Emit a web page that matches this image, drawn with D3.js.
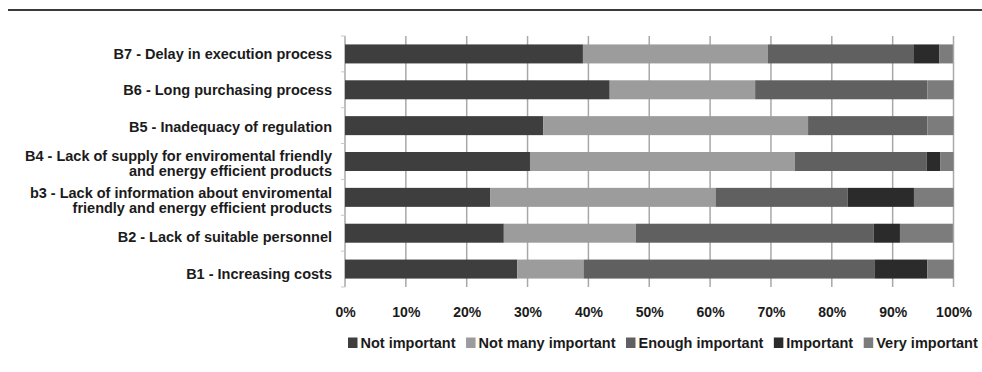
<!DOCTYPE html>
<html>
<head>
<meta charset="utf-8">
<script src="https://cdn.jsdelivr.net/npm/d3@7"></script>
<style>
  body { margin: 0; background: #fff; }
  text { font-family: "Liberation Sans", Arial, Helvetica, sans-serif; font-weight: bold; fill: #1b1b1b; }
</style>
</head>
<body>
<svg id="chart" width="982" height="372"></svg>
<script>
// Barrier categories (top to bottom); "\n" marks a line break in the label
const categories = [
  "B7 - Delay in execution process",
  "B6 - Long purchasing process",
  "B5 - Inadequacy of regulation",
  "B4 - Lack of supply for enviromental friendly\nand energy efficient products",
  "b3 - Lack of information about enviromental\nfriendly and energy efficient products",
  "B2 - Lack of suitable personnel",
  "B1 - Increasing costs"
];

// Share of respondents (%) per importance level, same order as categories
const notImportant     = [39.1, 43.5, 32.6, 30.4, 23.9, 26.1, 28.3];
const notManyImportant = [30.4, 23.9, 43.5, 43.5, 37.0, 21.7, 10.9];
const enoughImportant  = [23.9, 28.3, 19.6, 21.7, 21.7, 39.1, 47.8];
const important        = [ 4.3,  0.0,  0.0,  2.2, 10.9,  4.3,  8.7];
const veryImportant    = [ 2.2,  4.3,  4.3,  2.2,  6.5,  8.7,  4.3];

const seriesNames = ["Not important", "Not many important", "Enough important", "Important", "Very important"];
const seriesColors = ["#3e3e3e", "#9c9c9c", "#606060", "#2b2b2b", "#7c7c7c"];
const tickValues = [0, 10, 20, 30, 40, 50, 60, 70, 80, 90, 100];

const svg = d3.select("#chart");

// Rule across the top of the figure
svg.append("line")
  .attr("x1", 8).attr("x2", 982).attr("y1", 10).attr("y2", 10)
  .attr("stroke", "#3a3a3a").attr("stroke-width", 2);

const plot = { left: 345, right: 953.5, top: 36, bottom: 287 };

const x = d3.scaleLinear().domain([0, 100]).range([plot.left, plot.right]);
const y = d3.scaleBand().domain(categories).range([plot.top, plot.bottom])
  .paddingInner(0.47).paddingOuter(0.235);
// Category labels sit on a slightly taller band grid
const yLabel = d3.scaleBand().domain(categories).range([35, 292]);

const table = categories.map((c, i) => ({
  category: c,
  "Not important": notImportant[i],
  "Not many important": notManyImportant[i],
  "Enough important": enoughImportant[i],
  "Important": important[i],
  "Very important": veryImportant[i]
}));
const stacked = d3.stack().keys(seriesNames)(table);

// Vertical gridlines
svg.append("g").selectAll("line").data(tickValues).join("line")
  .attr("x1", d => x(d)).attr("x2", d => x(d))
  .attr("y1", plot.top).attr("y2", plot.bottom)
  .attr("stroke", "#a8a8a8").attr("stroke-width", 1.5);

// Small ticks on the category axis at band boundaries
svg.append("g").selectAll("line").data(d3.range(categories.length + 1)).join("line")
  .attr("x1", plot.left - 4).attr("x2", plot.left)
  .attr("y1", i => plot.top + i * y.step()).attr("y2", i => plot.top + i * y.step())
  .attr("stroke", "#c8c8c8").attr("stroke-width", 1);

// Stacked bars
svg.append("g").selectAll("g").data(stacked).join("g")
  .attr("fill", (d, i) => seriesColors[i])
  .selectAll("rect").data(d => d).join("rect")
  .attr("x", d => x(d[0]))
  .attr("width", d => Math.max(0, x(d[1]) - x(d[0])))
  .attr("y", d => y(d.data.category))
  .attr("height", y.bandwidth());

// X axis tick labels
const xAxis = svg.append("g")
  .attr("transform", `translate(0,${plot.bottom})`)
  .call(d3.axisBottom(x).tickValues(tickValues).tickFormat(d => d + "%").tickSize(0).tickPadding(20));
xAxis.select(".domain").remove();
xAxis.selectAll("text").attr("font-size", 14).attr("fill", "#1b1b1b")
  .style("font-family", "'Liberation Sans', Arial, sans-serif").style("font-weight", "bold");

// Category labels (right aligned, possibly two lines)
const lineH = 15.5;
svg.append("g").selectAll("text").data(categories).join("text")
  .attr("text-anchor", "end")
  .attr("font-size", 14.5)
  .each(function(c) {
    const lines = c.split("\n");
    const cy = yLabel(c) + yLabel.bandwidth() / 2;
    const t = d3.select(this);
    lines.forEach((ln, k) => {
      t.append("tspan")
        .attr("x", 332)
        .attr("y", cy + (k - (lines.length - 1) / 2) * lineH)
        .attr("dy", "0.36em")
        .text(ln);
    });
  });

// Legend laid out left to right
const legend = svg.append("g").attr("transform", "translate(348,343)");
let lx = 0;
seriesNames.forEach((name, i) => {
  const g = legend.append("g").attr("transform", `translate(${lx},0)`);
  g.append("rect").attr("x", 0).attr("y", -5.5).attr("width", 9.5).attr("height", 10.5)
    .attr("fill", seriesColors[i]);
  const t = g.append("text").attr("x", 12.5).attr("dy", "0.36em").attr("font-size", 14.5).text(name);
  lx += 12.5 + t.node().getComputedTextLength() + 10.5;
});
</script>
</body>
</html>
